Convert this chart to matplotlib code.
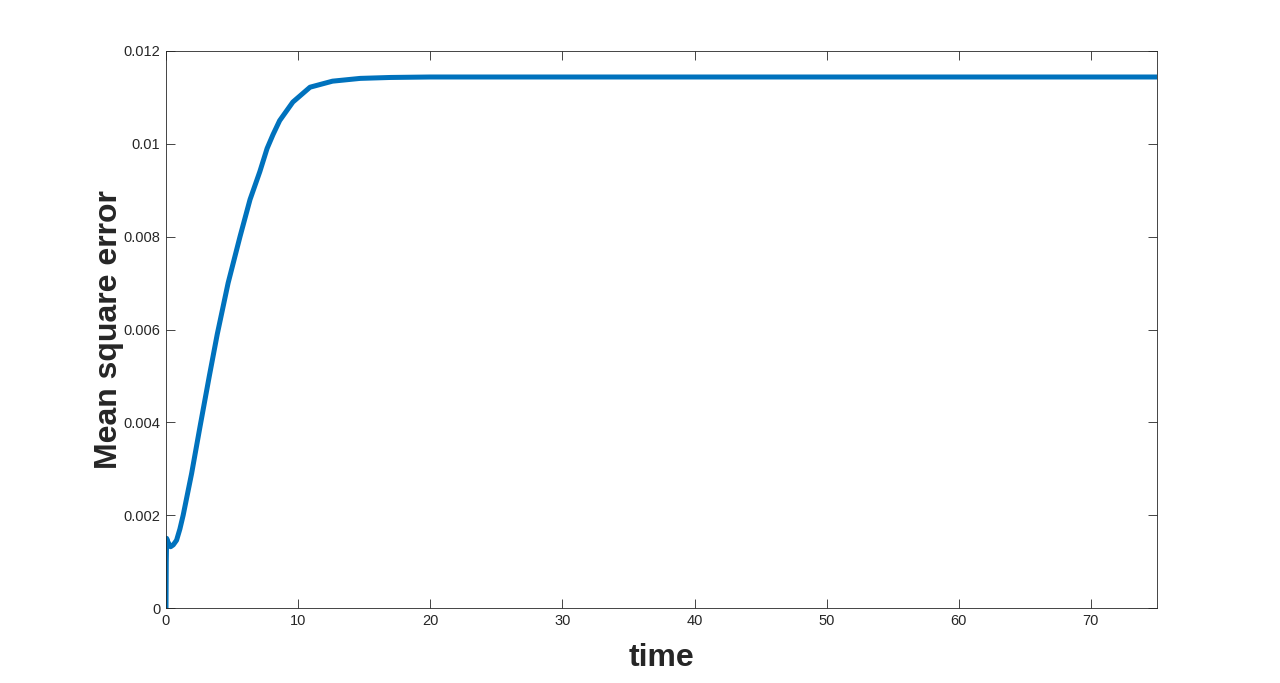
import matplotlib
matplotlib.use("Agg")
import matplotlib.pyplot as plt
import numpy as np

time = [0, 0.02, 0.05, 0.15, 0.35, 0.55, 0.8, 1.05, 1.3, 1.94, 2.57, 3.28, 3.88, 4.7, 5.6, 6.36, 7.1, 7.65, 8.1, 8.6, 9.6, 10.9, 12.6, 14.7, 17, 20, 30, 75]
mse = [0, 0.0010, 0.0015, 0.00142, 0.00132, 0.00136, 0.00146, 0.0017, 0.002, 0.0029, 0.0039, 0.0050, 0.0059, 0.0070, 0.0080, 0.0088, 0.0094, 0.0099, 0.0102, 0.0105, 0.0109, 0.01122, 0.01135, 0.01141, 0.01143, 0.01144, 0.01144, 0.01144]
xticks = [0, 10, 20, 30, 40, 50, 60, 70]
yticks = [0, 0.002, 0.004, 0.006, 0.008, 0.01, 0.012]
yticklabels = ["0", "0.002", "0.004", "0.006", "0.008", "0.01", "0.012"]

plt.rcParams['font.family'] = ['Liberation Sans', 'DejaVu Sans']
fig = plt.figure(figsize=(12.8, 6.83), dpi=100)
ax = fig.add_axes([166/1280, 1-608/683, (1157-166)/1280, (608-51)/683])
ax.plot(time, mse, color='#0072BD', linewidth=3.6, solid_capstyle='butt', solid_joinstyle='round')
ax.set_xlim(0, 75)
ax.set_ylim(0, 0.012)
ax.set_xticks(xticks)
ax.set_xticklabels([str(v) for v in xticks])
ax.set_yticks(yticks)
ax.set_yticklabels(yticklabels)
ax.tick_params(direction='in', top=True, right=True, labelsize=10.5, colors='#262626', length=6.5, width=0.6, pad=4)
for s in ax.spines.values():
    s.set_linewidth(0.6)
    s.set_color('#262626')
ax.set_xlabel('time', fontsize=23, fontweight='bold', color='#262626', labelpad=11)
ax.set_ylabel('Mean square error', fontsize=23, fontweight='bold', color='#262626', labelpad=0)
fig.savefig('out.png', dpi=100)
